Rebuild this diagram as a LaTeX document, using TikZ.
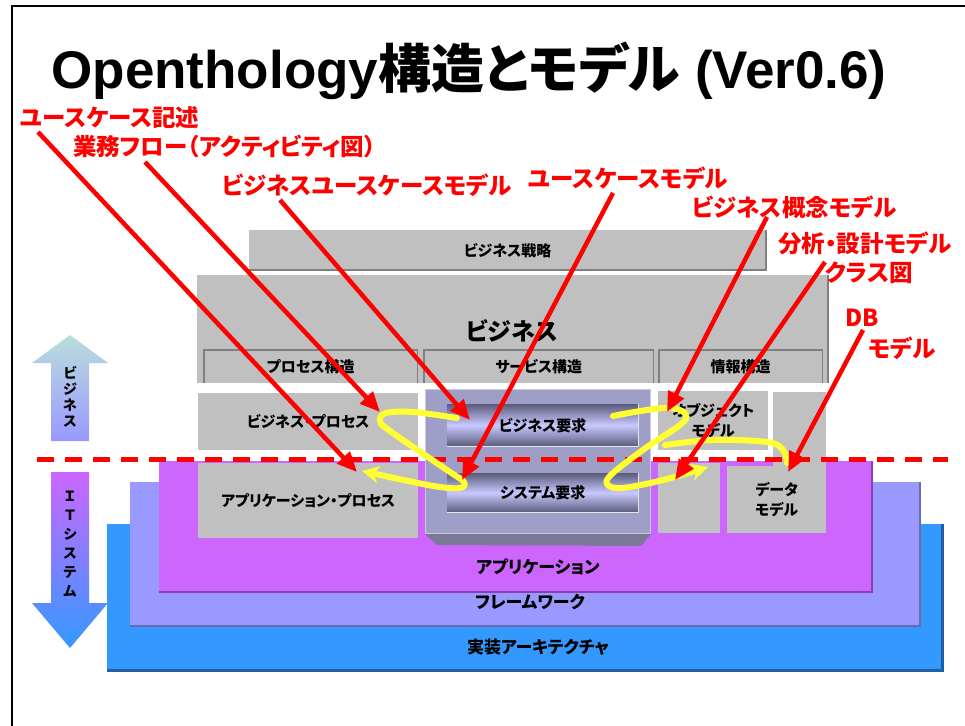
\documentclass[tikz,border=0pt]{standalone}
\usepackage{fontspec}
\setmainfont{Noto Sans CJK JP}[RawFeature=+palt]
\newfontfamily\latinfont{Liberation Sans}
\usetikzlibrary{arrows.meta}

\definecolor{boxgray}{HTML}{C0C0C0}
\definecolor{edgedark}{HTML}{808080}
\definecolor{edgelight}{HTML}{E6E6E6}
\definecolor{servicefill}{HTML}{9E9EC6}
\definecolor{servicebevel}{HTML}{7A7A98}
\definecolor{appfill}{HTML}{CC66FF}
\definecolor{appedge}{HTML}{8A40B0}
\definecolor{fwfill}{HTML}{9999FF}
\definecolor{fwedge}{HTML}{6A6AB0}
\definecolor{implfill}{HTML}{3399FF}
\definecolor{impledge}{HTML}{1F5FA8}
\definecolor{barlight}{HTML}{C8C8FF}
\definecolor{bardark}{HTML}{5C5C7C}
\definecolor{flowyellow}{HTML}{FFFF33}
\definecolor{upcyan}{HTML}{BBDDDD}

\tikzstyle{redlabel}=[text=red, font=\fontsize{23.5}{25}\selectfont\bfseries, inner sep=0, anchor=west]
\tikzstyle{boxtext}=[font=\fontsize{15}{20}\selectfont\bfseries, align=center]
\tikzstyle{layertext}=[font=\fontsize{17}{20}\selectfont\bfseries, inner sep=0]
\tikzstyle{grayblock}=[fill=boxgray, inner sep=0, anchor=north west, boxtext]
\tikzstyle{layer}=[inner sep=0, anchor=north west]
\tikzstyle{reqbar}=[inner sep=0, anchor=north west, boxtext, top color=bardark, bottom color=bardark, middle color=barlight]
\tikzstyle{raised}=[edgedark, line width=2pt]
\tikzstyle{sunken}=[edgedark, line width=1.5pt]
\tikzstyle{redarrow}=[red, line width=4.5pt, -{Triangle[length=20pt, width=17pt]}]
\tikzstyle{yellowflow}=[flowyellow, line width=6pt, line cap=round, line join=round]
\tikzstyle{dirtext}=[font=\fontsize{14}{16}\selectfont\bfseries, align=center, inner sep=0]

\begin{document}
\begin{tikzpicture}[x=1pt, y=-1pt]
      \useasboundingbox (0,0) rectangle (965,725);

      \coordinate (frame_bl) at (12,726);
      \coordinate (frame_tl) at (12,6);
      \coordinate (frame_tr) at (966,6);
      \draw[line width=2pt] (frame_bl) -- (frame_tl) -- (frame_tr);

      \node[anchor=base, inner sep=0, font=\fontsize{53}{58}\selectfont\bfseries] (title) at (469,88)
        {{\latinfont Openthology}構造とモデル{\latinfont\ (Ver0.6)}};

      % layers
      \node[layer, fill=implfill, minimum width=835, minimum height=146] (impl) at (107,524) {};
      \draw[impledge, line width=3pt] (impl.north east) -- (impl.south east) -- (impl.south west);
      \node[layer, fill=fwfill, minimum width=790, minimum height=144] (fw) at (130,482) {};
      \draw[fwedge, line width=2pt] (fw.north east) -- (fw.south east) -- (fw.south west);
      \node[layer, fill=appfill, minimum width=713, minimum height=131] (app) at (159,461) {};
      \draw[appedge, line width=2pt] (app.north east) -- (app.south east) -- (app.south west);
      \node[layertext] (impl_text) at (538,647) {実装アーキテクチャ};
      \node[layertext] (fw_text) at (530,602) {フレームワーク};
      \node[layertext] (app_text) at (538,567) {アプリケーション};

      % business
      \node[grayblock, minimum width=517, minimum height=40] (strategy) at (249,230) {ビジネス戦略};
      \draw[raised] (strategy.north east) -- (strategy.south east) -- (strategy.south west);
      \node[grayblock, minimum width=631, minimum height=108] (business) at (197,275) {};
      \draw[raised] (business.north east) -- (business.south east);
      \node[font=\fontsize{24}{26}\selectfont\bfseries, inner sep=0] (business_text) at (512,331) {ビジネス};
      \node[grayblock, minimum width=213, minimum height=33] (procstruct) at (204,350) {プロセス構造};
      \node[grayblock, minimum width=229, minimum height=33] (servstruct) at (424,350) {サービス構造};
      \node[grayblock, minimum width=163, minimum height=33] (infostruct) at (659,350) {情報構造};
      \foreach \s in {procstruct, servstruct, infostruct}
        \draw[sunken] (\s.south west) -- (\s.north west) -- (\s.north east) -- (\s.south east);

      \node[grayblock, minimum width=220, minimum height=57] (bizproc) at (198,393) {ビジネス・プロセス};
      \node[grayblock, minimum width=220, minimum height=75] (appproc) at (198,463) {アプリケーション・プロセス};
      \node[grayblock, minimum width=110, minimum height=59] (objmodel) at (658,391) {オブジェクト\\モデル};
      \node[grayblock, minimum width=62, minimum height=70] (lowergray) at (658,463) {};
      \node[grayblock, minimum width=53, minimum height=75] (dataupper) at (773,392) {};
      \node[grayblock, minimum width=99, minimum height=67] (datamodel) at (727,466) {データ\\モデル};

      % service block
      \node[layer, fill=servicefill, draw=edgelight!60!servicefill, line width=1pt,
        minimum width=225, minimum height=144] (service) at (425,389) {};
      \fill[servicebevel] (service.south west) -- (service.south east) -- ++(-10,12) -- (437,545) -- cycle;
      \node[reqbar, minimum width=191, minimum height=42] (bizreq) at (447,404) {ビジネス要求};
      \draw[edgelight, line width=1.5pt] (bizreq.north east) -- (bizreq.south east) -- (bizreq.south west);
      \node[reqbar, minimum width=191, minimum height=39] (sysreq) at (447,473) {システム要求};
      \draw[edgelight, line width=1.5pt] (sysreq.north east) -- (sysreq.south east) -- (sysreq.south west);

      % boundary
      \coordinate (bound_l) at (37,459);
      \coordinate (bound_r) at (948,459);
      \draw[red, line width=5pt, dash pattern=on 17pt off 11pt] (bound_l) -- (bound_r);

      % direction arrows
      \shade[top color=upcyan, bottom color=fwfill] (70,335) -- (108,363) -- (89,363) -- (89,441)
        -- (51,441) -- (51,363) -- (32,363) -- cycle;
      \node[dirtext] (bizdir) at (70,397) {ビ\\ジ\\ネ\\ス};
      \shade[top color=appfill, bottom color=implfill] (51,472) -- (89,472) -- (89,603) -- (108,603)
        -- (70,648) -- (32,603) -- (51,603) -- cycle;
      \node[dirtext, font=\fontsize{14}{19}\selectfont\bfseries] (itdir) at (70,544) {Ｉ\\Ｔ\\シ\\ス\\テ\\ム};

      % flows
      \draw[yellowflow, -{Stealth[length=17pt, width=17pt, inset=5pt]}] plot[smooth, tension=0.6] coordinates
        {(457,418) (413,412) (386,413) (380,421) (390,431) (447,470) (464,482) (460,488) (440,487) (413,482) (362,471)};
      \draw[yellowflow, -{Stealth[length=17pt, width=17pt, inset=5pt]}] plot[smooth, tension=0.6] coordinates
        {(613,416) (647,410) (673,408) (686,415) (680,425) (647,447) (613,473) (607,484) (622,488) (663,480) (708,467)};
      \draw[yellowflow] plot[smooth, tension=0.6] coordinates
        {(665,445) (713,440) (767,442) (783,450) (787,463)};

      % models
      \node[redlabel] (ucdesc) at (20,117) {ユースケース記述};
      \node[redlabel] (bizflow) at (73,146) {業務フロー（アクティビティ図）};
      \node[redlabel] (bizuc) at (222,185) {ビジネスユースケースモデル};
      \node[redlabel] (ucmodel) at (528,178) {ユースケースモデル};
      \node[redlabel] (bizconcept) at (692,207) {ビジネス概念モデル};
      \node[redlabel] (anadesign) at (778,243) {分析・設計モデル};
      \node[redlabel] (classdiag) at (825,273) {クラス図};
      \node[redlabel] (db) at (845,318) {DB};
      \node[redlabel] (dbmodel) at (868,348) {モデル};

      \coordinate (ucdesc_from) at (38,132);
      \coordinate (ucdesc_to) at (357,472);
      \coordinate (bizflow_from) at (145,162);
      \coordinate (bizflow_to) at (380,412);
      \coordinate (bizuc_from) at (280,200);
      \coordinate (bizuc_to) at (470,420);
      \coordinate (ucmodel_from) at (613,193);
      \coordinate (ucmodel_to) at (462,480);
      \coordinate (bizconcept_from) at (767,217);
      \coordinate (bizconcept_to) at (667,412);
      \coordinate (anadesign_from) at (825,262);
      \coordinate (anadesign_to) at (675,480);
      \coordinate (db_from) at (863,330);
      \coordinate (db_to) at (788,472);
      \foreach \m in {ucdesc, bizflow, bizuc, ucmodel, bizconcept, anadesign, db}
        \draw[redarrow] (\m_from) -- (\m_to);
    \end{tikzpicture}
\end{document}
